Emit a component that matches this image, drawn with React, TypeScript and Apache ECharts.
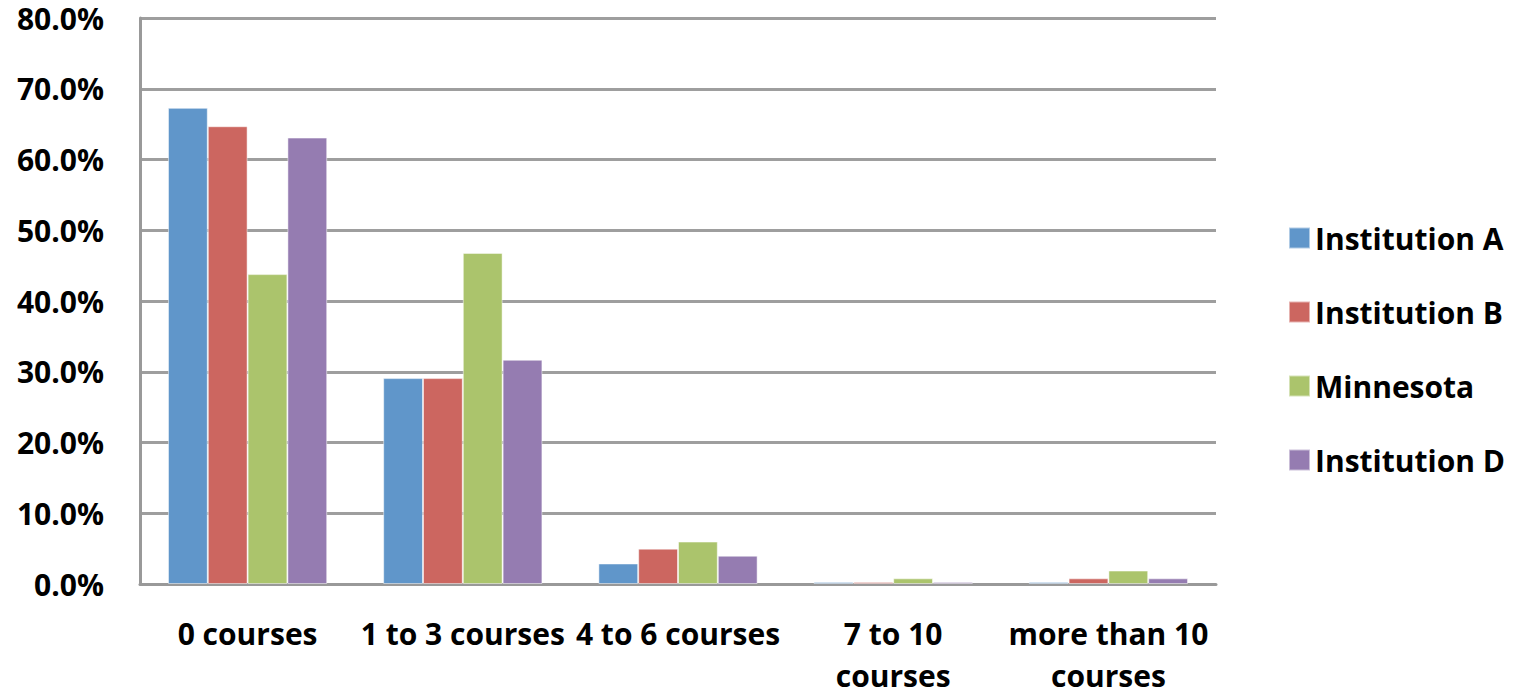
import React, { useEffect, useRef } from "react";
import * as echarts from "echarts";

const categories = [
  "0 courses",
  "1 to 3 courses",
  "4 to 6 courses",
  "7 to 10\ncourses",
  "more than 10\ncourses",
];
const seriesNames = ["Institution A", "Institution B", "Minnesota", "Institution D"];
const institutionA = [67.3, 29.1, 2.9, 0.3, 0.3];
const institutionB = [64.7, 29.1, 5.0, 0.3, 0.8];
const minnesota = [43.8, 46.8, 6.0, 0.8, 1.9];
const institutionD = [63.1, 31.7, 4.0, 0.3, 0.8];
const colors = ["#6096CA", "#CC6660", "#ABC46C", "#957CB1"];

const FONT = "Open Sans";

export default function App() {
  const ref = useRef<HTMLDivElement>(null);

  useEffect(() => {
    if (!ref.current) return;
    const chart = echarts.init(ref.current, null, { renderer: "svg" });
    const values = [institutionA, institutionB, minnesota, institutionD];
    chart.setOption({
      animation: false,
      backgroundColor: "#ffffff",
      color: colors,
      grid: { left: 140, right: 306, top: 18, bottom: 110, outerBoundsMode: "none" },
      legend: {
        orient: "vertical",
        left: 1288,
        top: 223,
        padding: 0,
        itemWidth: 21,
        itemHeight: 21,
        itemGap: 44,
        icon: "rect",
        data: seriesNames,
        textStyle: { fontFamily: FONT, fontWeight: "bold", fontSize: 30, color: "#000" },
      },
      xAxis: {
        type: "category",
        data: categories,
        axisLine: { lineStyle: { color: "#999999", width: 3 } },
        axisTick: { show: false },
        axisLabel: {
          margin: 28,
          fontFamily: FONT,
          fontWeight: "bold",
          fontSize: 30,
          lineHeight: 42,
          color: "#000",
          interval: 0,
        },
      },
      yAxis: {
        type: "value",
        min: 0,
        max: 80,
        interval: 10,
        axisLine: { show: true, lineStyle: { color: "#999999", width: 3 } },
        axisTick: { show: false },
        splitLine: { lineStyle: { color: "#9E9E9E", width: 3 } },
        axisLabel: {
          margin: 36,
          fontFamily: FONT,
          fontWeight: "bold",
          fontSize: 30,
          lineHeight: 30,
          color: "#000",
          formatter: (v: number) => v.toFixed(1) + "%",
        },
      },
      series: seriesNames.map((name, i) => ({
        name,
        type: "bar",
        data: values[i],
        barGap: "0%",
        barCategoryGap: "26%",
        itemStyle: { borderColor: "rgba(255,255,255,0.5)", borderWidth: 1 },
      })),
    });
    return () => chart.dispose();
  }, []);

  return (
    <div
      ref={ref}
      style={{ position: "absolute", left: 0, top: 0, width: 1522, height: 694 }}
    />
  );
}
